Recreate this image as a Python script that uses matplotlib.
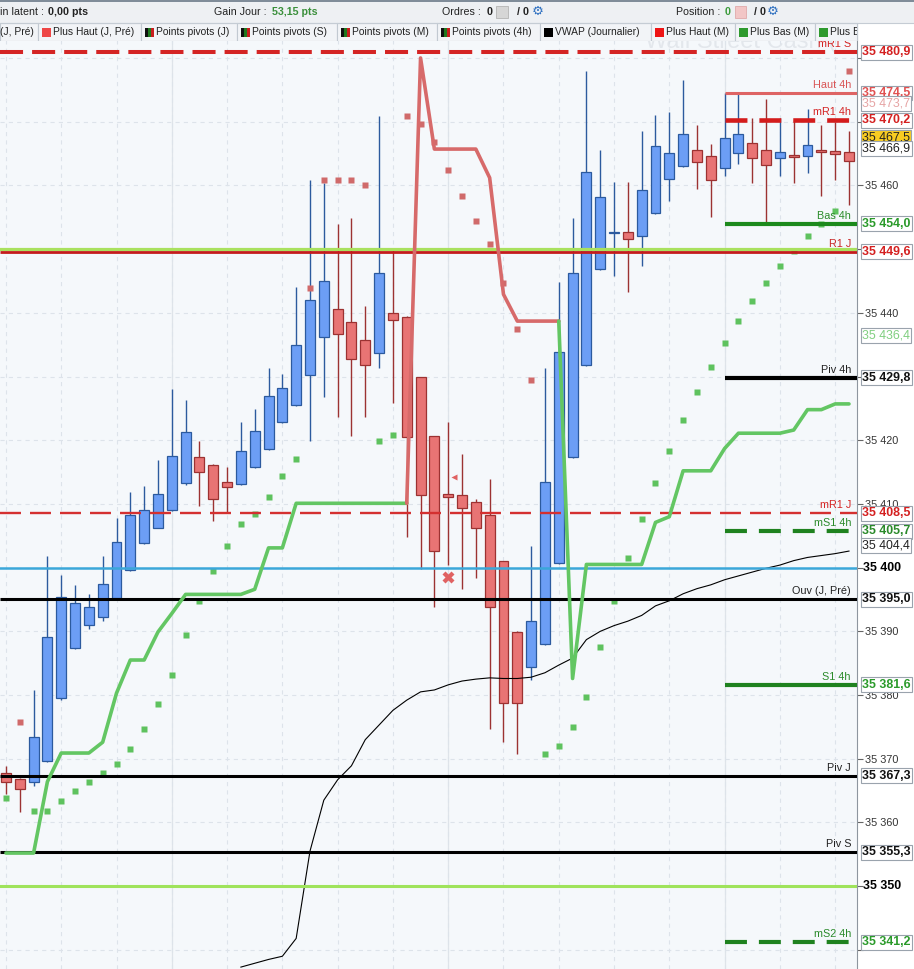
import numpy as np
import matplotlib.pyplot as plt
from matplotlib.patches import Rectangle
from matplotlib.ticker import FuncFormatter, MultipleLocator

plt.rcParams['font.family'] = ['Liberation Sans', 'DejaVu Sans']
plt.rcParams['lines.scale_dashes'] = False

# bougies (ouverture, haut, bas, cloture)
opens = [35367.8, 35366.9, 35366.3, 35369.7, 35379.5, 35387.4, 35391.0, 35392.3, 35395.2, 35399.6,
         35403.8, 35406.3, 35409.0, 35413.3, 35417.3, 35416.1, 35413.4, 35413.1, 35415.8, 35418.6,
         35422.8, 35425.5, 35430.2, 35436.2, 35440.6, 35438.5, 35435.7, 35433.7, 35439.9, 35439.4,
         35429.9, 35420.6, 35411.6, 35411.4, 35410.3, 35408.2, 35401.0, 35389.9, 35384.4, 35388.0,
         35400.7, 35417.3, 35431.8, 35446.8, 35452.5, 35452.7, 35452.0, 35455.6, 35461.0, 35463.0,
         35465.5, 35464.6, 35462.7, 35465.1, 35466.6, 35465.5, 35464.3, 35464.7, 35464.6, 35465.5,
         35465.4, 35465.2]
highs = [35368.8, 35367.0, 35380.8, 35401.9, 35398.9, 35397.3, 35395.9, 35401.9, 35407.8, 35411.9,
         35412.8, 35416.9, 35428.0, 35426.3, 35419.9, 35416.2, 35415.8, 35422.9, 35424.9, 35431.3,
         35430.4, 35444.0, 35460.9, 35460.3, 35454.0, 35454.9, 35441.0, 35470.9, 35449.9, 35439.5,
         35430.0, 35420.7, 35422.9, 35417.9, 35410.7, 35413.9, 35401.1, 35390.0, 35403.4, 35431.3,
         35444.9, 35454.9, 35478.0, 35465.6, 35460.5, 35460.5, 35468.6, 35471.1, 35471.5, 35476.6,
         35469.5, 35466.5, 35474.5, 35474.3, 35470.6, 35473.6, 35470.6, 35470.3, 35472.0, 35469.5,
         35470.0, 35468.5]
lows = [35364.5, 35361.7, 35365.8, 35369.5, 35379.3, 35387.2, 35390.3, 35391.7, 35395.0, 35399.5,
        35403.7, 35406.2, 35408.9, 35413.0, 35409.7, 35407.3, 35408.5, 35413.0, 35415.6, 35418.5,
        35422.7, 35425.4, 35419.8, 35426.8, 35423.7, 35420.7, 35423.7, 35431.3, 35425.8, 35404.8,
        35399.8, 35393.8, 35400.4, 35396.7, 35398.3, 35374.7, 35372.7, 35370.7, 35382.4, 35387.9,
        35400.6, 35417.2, 35431.7, 35446.7, 35445.8, 35443.3, 35447.4, 35455.5, 35457.5, 35462.9,
        35459.4, 35455.0, 35461.4, 35463.4, 35460.4, 35454.2, 35461.4, 35460.4, 35461.9, 35458.4,
        35460.9, 35456.9]
closes = [35366.3, 35365.3, 35373.4, 35389.1, 35395.4, 35394.4, 35393.9, 35397.4, 35404.1, 35408.2,
          35409.0, 35411.5, 35417.6, 35421.3, 35415.0, 35410.7, 35412.6, 35418.3, 35421.4, 35427.0,
          35428.2, 35434.9, 35442.0, 35445.0, 35436.7, 35432.7, 35431.8, 35446.2, 35438.8, 35420.5,
          35411.4, 35402.6, 35411.1, 35409.3, 35406.2, 35393.8, 35378.7, 35378.7, 35391.7, 35413.4,
          35433.9, 35446.2, 35462.1, 35458.1, 35452.7, 35451.6, 35459.2, 35466.2, 35465.1, 35468.0,
          35463.6, 35460.8, 35467.5, 35468.0, 35464.3, 35463.2, 35465.2, 35464.4, 35466.3, 35465.2,
          35464.9, 35463.8]

# SAR parabolique, 1 = point vert sous le prix, 0 = point rouge au-dessus
psar = [35363.8, 35375.7, 35361.8, 35361.8, 35363.4, 35364.9, 35366.3, 35367.7, 35369.1, 35371.5,
        35374.6, 35378.6, 35383.1, 35389.4, 35394.7, 35399.4, 35403.4, 35406.8, 35408.4, 35411.1,
        35414.4, 35417.0, 35443.9, 35460.9, 35460.9, 35460.9, 35460.1, 35419.9, 35420.8, 35470.9,
        35469.7, 35466.8, 35462.4, 35458.4, 35454.4, 35450.8, 35444.7, 35437.4, 35429.5, 35370.7,
        35372.0, 35375.0, 35379.7, 35387.6, 35394.8, 35401.5, 35407.6, 35413.3, 35418.3, 35423.1,
        35427.5, 35431.5, 35435.2, 35438.7, 35441.8, 35444.7, 35447.3, 35449.7, 35452.0, 35454.0,
        35456.0, 35477.9]
psar_side = [1, 0, 1, 1, 1, 1, 1, 1, 1, 1,
             1, 1, 1, 1, 1, 1, 1, 1, 1, 1,
             1, 1, 0, 0, 0, 0, 0, 1, 1, 0,
             0, 0, 0, 0, 0, 0, 0, 0, 0, 1,
             1, 1, 1, 1, 1, 1, 1, 1, 1, 1,
             1, 1, 1, 1, 1, 1, 1, 1, 1, 1,
             1, 0]

# supertrend, 1 = haussier (vert), 0 = baissier (rouge)
trend = [35355.2, 35355.2, 35355.2, 35366.4, 35370.9, 35370.9, 35370.9, 35372.6, 35380.3, 35385.5,
         35385.5, 35389.9, 35392.8, 35395.8, 35395.8, 35395.8, 35395.8, 35395.8, 35396.6, 35403.1,
         35403.1, 35410.1, 35410.1, 35410.1, 35410.1, 35410.1, 35410.1, 35410.1, 35410.1, 35410.1,
         35480.0, 35465.7, 35465.7, 35465.7, 35465.7, 35461.2, 35442.9, 35438.7, 35438.7, 35438.7,
         35438.7, 35382.6, 35400.5, 35400.5, 35400.5, 35400.5, 35400.5, 35407.1, 35408.0, 35415.2,
         35415.2, 35415.2, 35418.7, 35421.1, 35421.1, 35421.1, 35421.1, 35421.6, 35424.8, 35424.8,
         35425.7, 35425.7]
trend_dir = [1, 1, 1, 1, 1, 1, 1, 1, 1, 1,
             1, 1, 1, 1, 1, 1, 1, 1, 1, 1,
             1, 1, 1, 1, 1, 1, 1, 1, 1, 1,
             0, 0, 0, 0, 0, 0, 0, 0, 0, 0,
             0, 1, 1, 1, 1, 1, 1, 1, 1, 1,
             1, 1, 1, 1, 1, 1, 1, 1, 1, 1,
             1, 1]

# VWAP journalier, a partir de la bougie 17
vwap_start = 17
vwap = [35337.3, 35337.9, 35338.5, 35339.0, 35341.8, 35355.5, 35363.5, 35366.7, 35368.9, 35373.0,
        35375.3, 35377.6, 35379.2, 35380.5, 35380.8, 35381.6, 35382.2, 35382.5, 35382.7, 35382.6,
        35382.6, 35382.8, 35383.5, 35384.7, 35385.8, 35388.7, 35390.0, 35390.9, 35391.6, 35392.5,
        35394.0, 35394.8, 35395.9, 35396.7, 35397.3, 35398.1, 35398.7, 35399.3, 35399.9, 35400.4,
        35401.1, 35401.6, 35401.9, 35402.2, 35402.6]

# niveaux (pivots, plus haut / plus bas 4h ...)
level_names = ['mR1 S', 'Haut 4h', 'mR1 4h', 'Bas 4h', 'R1 J', 'Piv 4h', 'mR1 J', 'mS1 4h',
               'Ouv (J, Pré)', 'S1 4h', 'Piv J', 'Piv S', 'mS2 4h']
level_values = [35480.9, 35474.5, 35470.2, 35454.0, 35449.6, 35429.8, 35408.5, 35405.7,
                35395.0, 35381.6, 35367.3, 35355.3, 35341.2]
round_levels = [35450.0, 35400.0, 35350.0]

# etiquettes de prix sur l'axe
label_values = [35480.9, 35474.5, 35473.7, 35470.2, 35467.5, 35466.9, 35454.0, 35449.6, 35436.4,
                35429.8, 35408.5, 35405.7, 35404.4, 35395.0, 35381.6, 35367.3, 35355.3, 35341.2]

# ordres
cross_x, cross_y = 32, 35398.6
tri_x, tri_y = 32.4, 35414.2

# ---------------------------------------------------------------------------
W, H = 914, 969
fig = plt.figure(figsize=(W / 100, H / 100), dpi=100)
fig.patch.set_facecolor('white')
ax = fig.add_axes([0, 0, 857 / W, 1])
ax.set_facecolor('#f5f8fb')
XL = (-0.43, 61.58)
ax.set_xlim(*XL)
ax.set_ylim(35337.0, 35489.1)

n = len(opens)
x = np.arange(n)
o, h, l, c = map(np.array, (opens, highs, lows, closes))

# grille
ax.set_xticks(np.arange(0, n, 4))
ax.yaxis.set_major_locator(MultipleLocator(10))
ax.grid(True, color='#dde3ea', lw=0.8, ls=(0, (3, 3)), zorder=0)
for k in (12, 32, 52):
    ax.axvline(k, color='#dfe4e9', lw=0.9, zorder=0.1)

# filigrane, coupe par le bandeau
wm = ax.text(645 / 857, 1 - 48 / H, 'Wall Street Cash (', transform=ax.transAxes,
             fontsize=17, color='#e3e7ec', va='baseline', zorder=0.2, clip_on=True)
wm_clip = Rectangle((0, 0), 1, 1 - 41 / H, transform=ax.transAxes, facecolor='none')
wm.set_clip_path(wm_clip)

# bougies
up = c >= o
bot = np.minimum(o, c)
hgt = np.maximum(np.abs(c - o), 0.18)
for m, face, edge in ((up, '#6c9ef5', '#2c5a9e'), (~up, '#e87474', '#9c3232')):
    ax.vlines(x[m], l[m], h[m], color=edge, lw=1.0, zorder=2)
    ax.bar(x[m], hgt[m], 0.72, bot[m], color=face, edgecolor=edge, lw=0.9, zorder=2.2)

# SAR
ps = np.array(psar)
side = np.array(psar_side)
ax.plot(x[side == 1], ps[side == 1], 's', ms=4.2, color='#5ec25e', mec='none', zorder=2.4)
ax.plot(x[side == 0], ps[side == 0], 's', ms=4.2, color='#d06a6a', mec='none', zorder=2.4)

# VWAP
ax.plot(x[vwap_start:], vwap, color='black', lw=0.8, zorder=2.6)

# niveaux ronds
ax.axhline(round_levels[0], color='#a9e15e', lw=2.3, zorder=2.7)
ax.axhline(round_levels[1], color='#3ba7d9', lw=1.8, zorder=2.7)
ax.axhline(round_levels[2], color='#9fe35b', lw=2.2, zorder=2.7)

RED, GREEN, BLACK = '#d42424', '#1f821f', '#000000'
level_style = {
    'mR1 S': (RED, 2.9, (16.6, 6.5), XL[0], RED),
    'Haut 4h': ('#de6464', 2.2, None, 52, '#d95555'),
    'mR1 4h': ('#d41c1c', 3.3, (15.8, 8.6), 52, RED),
    'Bas 4h': ('#1c8a1c', 3.0, None, 52, '#2a8c2a'),
    'R1 J': ('#c41c1c', 2.0, None, XL[0], '#c82828'),
    'Piv 4h': (BLACK, 3.0, None, 52, '#222222'),
    'mR1 J': ('#d43030', 1.7, (15.1, 6.5), XL[0], RED),
    'mS1 4h': (GREEN, 3.0, (15.8, 8.6), 52, '#2a8a2a'),
    'Ouv (J, Pré)': (BLACK, 2.2, None, XL[0], '#222222'),
    'S1 4h': (GREEN, 3.0, None, 52, '#2a8a2a'),
    'Piv J': (BLACK, 2.2, None, XL[0], '#222222'),
    'Piv S': (BLACK, 2.2, None, XL[0], '#222222'),
    'mS2 4h': (GREEN, 3.0, (15.8, 8.6), 52, '#2a8a2a'),
}
for name, val in zip(level_names, level_values):
    col, lw, dash, x0, tcol = level_style[name]
    kw = dict(color=col, lw=lw, zorder=3, solid_capstyle='butt')
    if dash:
        kw.update(dashes=dash, dash_capstyle='butt')
    ax.plot([x0, XL[1]], [val, val], **kw)
    ax.annotate(name, xy=(851 / 857, val), xycoords=('axes fraction', 'data'),
                xytext=(0, 2.2), textcoords='offset points', ha='right', va='bottom',
                fontsize=7.8, color=tcol, zorder=3.2)

# supertrend
tr = np.array(trend)
td = np.array(trend_dir)
cuts = [0] + [k - 1 for k in range(1, n) if td[k] != td[k - 1]] + [n - 1]
for a, b in zip(cuts[:-1], cuts[1:]):
    col = '#63c663' if td[a + 1] == 1 else '#d76a6a'
    ax.plot(x[a:b + 1], tr[a:b + 1], color=col, lw=2.6, zorder=3.5,
            solid_joinstyle='round', solid_capstyle='round')

# ordres
ax.plot(cross_x, cross_y, 'X', ms=8, color='#e06262', mec='none', zorder=5)
ax.plot(tri_x, tri_y, '<', ms=4.5, color='#e06262', mec='none', zorder=5)

# axe de droite
for s in ('top', 'left', 'bottom'):
    ax.spines[s].set_visible(False)
ax.spines['right'].set_color('#8e969f')
ax.yaxis.tick_right()
bold_ticks = [35400.0, 35350.0]
hidden_ticks = [35480.0, 35470.0, 35450.0, 35430.0, 35340.0]


def fmt(v, pos):
    if any(abs(v - b) < 0.01 for b in bold_ticks + hidden_ticks):
        return ''
    return f'{v:,.0f}'.replace(',', ' ')


ax.yaxis.set_major_formatter(FuncFormatter(fmt))
ax.tick_params(axis='y', length=4, width=0.8, color='#666666', labelsize=7.8,
               labelcolor='#333333', pad=2)
ax.tick_params(axis='x', length=0, labelbottom=False)

for b in bold_ticks:
    ax.annotate(f'{b:,.0f}'.replace(',', ' '), xy=(863 / W, b),
                xycoords=('figure fraction', 'data'), ha='left', va='center',
                fontsize=8.9, weight='bold', color='black', annotation_clip=False)

label_style = [
    ('#d42020', 'bold', 'white', 0), ('#e05050', 'bold', 'white', 0),
    ('#e6a4a4', 'normal', 'white', 5), ('#d42020', 'bold', 'white', 0),
    ('#222222', 'normal', '#f8cc22', 0), ('#222222', 'normal', 'white', 7),
    ('#2a9a2a', 'bold', 'white', 0), ('#d42020', 'bold', 'white', 0),
    ('#80cf80', 'normal', 'white', 0), ('#111111', 'bold', 'white', 0),
    ('#d42020', 'bold', 'white', 0), ('#2a8a2a', 'bold', 'white', 0),
    ('#222222', 'normal', 'white', 6), ('#111111', 'bold', 'white', 0),
    ('#2a9a2a', 'bold', 'white', 0), ('#111111', 'bold', 'white', 0),
    ('#111111', 'bold', 'white', 0), ('#2a9a2a', 'bold', 'white', 0),
]
for val, (tc, wt, fc, dy) in zip(label_values, label_style):
    txt = f'{val:,.1f}'.replace(',', ' ').replace('.', ',')
    ax.annotate(txt, xy=(862 / W, val), xycoords=('figure fraction', 'data'),
                xytext=(0, -dy), textcoords='offset pixels', ha='left', va='center',
                fontsize=8.9, weight=wt, color=tc, annotation_clip=False, zorder=6,
                bbox=dict(boxstyle='square,pad=0.12', fc=fc, ec='#9aa3ad', lw=0.8))

# ---------------------------------------------------------------------------
# bandeau du haut
hd = fig.add_axes([0, 1 - 41 / H, 1, 41 / H])
hd.set_xlim(0, W)
hd.set_ylim(41, 0)
hd.axis('off')
hd.add_patch(Rectangle((0, 0), W, 23, facecolor='#eef0f3', edgecolor='none'))
hd.plot([0, W], [1.0, 1.0], color='#7d8a97', lw=1.4)
hd.plot([0, W], [22.6, 22.6], color='#c5ccd4', lw=0.8)

fs = 7.7
hd.text(0, 12, 'in latent :', fontsize=fs, va='center', color='#222')
hd.text(48, 12, '0,00 pts', fontsize=fs, va='center', weight='bold', color='#222')
hd.text(214, 12, 'Gain Jour :', fontsize=fs, va='center', color='#222')
hd.text(272, 12, '53,15 pts', fontsize=fs, va='center', weight='bold', color='#3a8f3a')
hd.text(442, 12, 'Ordres :', fontsize=fs, va='center', color='#222')
hd.text(487, 12, '0', fontsize=fs, va='center', weight='bold', color='#222')
hd.add_patch(Rectangle((496, 6), 12, 12, facecolor='#d6d6d6', edgecolor='#b4b4b4', lw=0.6))
hd.text(517, 12, '/ 0', fontsize=fs, va='center', weight='bold', color='#222')
hd.text(532, 11, '\u2699', fontsize=9.5, va='center', color='#2d6fc0', family='DejaVu Sans')
hd.text(676, 12, 'Position :', fontsize=fs, va='center', color='#222')
hd.text(725, 12, '0', fontsize=fs, va='center', weight='bold', color='#3a9a3a')
hd.add_patch(Rectangle((735, 6), 11, 12, facecolor='#f2c6c6', edgecolor='#e0aaaa', lw=0.6))
hd.text(754, 12, '/ 0', fontsize=fs, va='center', weight='bold', color='#222')
hd.text(767, 11, '\u2699', fontsize=9.5, va='center', color='#2d6fc0', family='DejaVu Sans')

tab_edges = [0, 38, 141, 237, 337, 437, 540, 651, 735, 815, 857]
tab_names = ['(J, Pré)', 'Plus Haut (J, Pré)', 'Points pivots (J)', 'Points pivots (S)',
             'Points pivots (M)', 'Points pivots (4h)', 'VWAP (Journalier)', 'Plus Haut (M)',
             'Plus Bas (M)', 'Plus Bas (S)']
tab_icons = [None, '#ee4646', 'piv', 'piv', 'piv', 'piv', '#000000', '#ee1414', '#2e9a2e', '#2e9a2e']
for x0, x1, name, icon in zip(tab_edges[:-1], tab_edges[1:], tab_names, tab_icons):
    rect = Rectangle((x0, 23), x1 - x0, 17.5, facecolor='#f2f4f7', edgecolor='#c2c9d1', lw=0.8)
    hd.add_patch(rect)
    tx = x0
    if icon == 'piv':
        for k, col in enumerate(('#111111', '#1f7a1f', '#c81e1e')):
            hd.add_patch(Rectangle((x0 + 4 + 3 * k, 27.5), 3, 9, facecolor=col, edgecolor='none'))
        tx = x0 + 15
    elif icon:
        hd.add_patch(Rectangle((x0 + 4, 27.5), 9, 9, facecolor=icon, edgecolor='none'))
        tx = x0 + 15
    t = hd.text(tx, 32, name, fontsize=7.4, va='center', color='#222', clip_on=True)
    t.set_clip_path(rect)

fig.savefig('out.png', dpi=100)
